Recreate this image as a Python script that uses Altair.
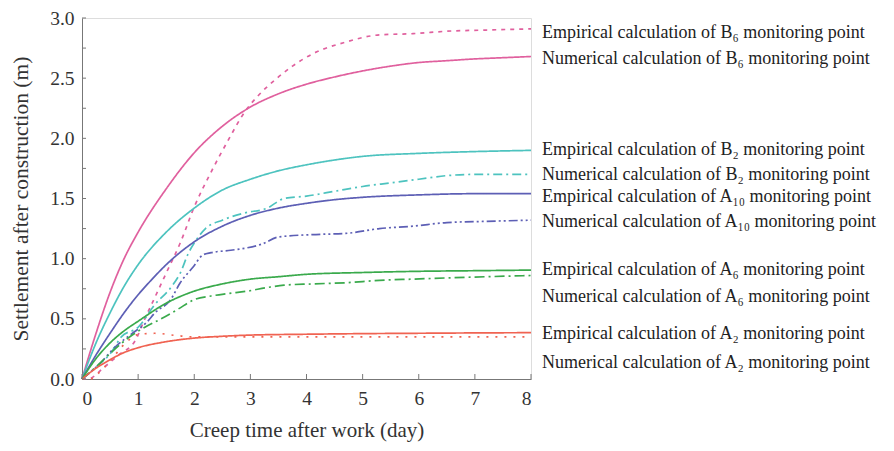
import altair as alt
import pandas as pd

# ---- data ----
b6_num_x = [0, 0.25, 0.5, 0.75, 1, 1.5, 2, 2.5, 3, 3.5, 4, 4.5, 5, 5.5, 6, 6.5, 7, 7.5, 8]
b6_num_y = [0, 0.38, 0.72, 1.0, 1.22, 1.58, 1.88, 2.1, 2.26, 2.37, 2.45, 2.51, 2.56, 2.6, 2.63, 2.645, 2.66, 2.67, 2.68]

b6_emp_x = [0, 0.1, 0.4, 0.65, 0.95, 1.12, 1.3, 1.5, 1.75, 2.0, 2.3, 2.6, 2.9, 3.15, 3.45, 3.75, 4.1, 4.7, 5.3, 5.9, 6.5, 7.2, 8]
b6_emp_y = [0, 0, 0.1, 0.2, 0.32, 0.5, 0.68, 0.88, 1.13, 1.43, 1.72, 1.98, 2.22, 2.36, 2.49, 2.6, 2.7, 2.8, 2.86, 2.87, 2.89, 2.9, 2.91]

b2_sol_x = [0, 0.25, 0.5, 0.75, 1, 1.5, 2, 2.5, 3, 3.5, 4, 4.5, 5, 6, 7, 8]
b2_sol_y = [0, 0.3, 0.55, 0.77, 0.95, 1.22, 1.42, 1.57, 1.66, 1.73, 1.78, 1.82, 1.85, 1.875, 1.89, 1.90]

b2_dd_x = [0, 0.25, 0.52, 0.7, 1.0, 1.3, 1.6, 1.75, 1.9, 2.0, 2.2, 2.5, 2.9, 3.3, 3.6, 4.0, 4.5, 5.0, 5.5, 6.0, 6.5, 7.0, 8]
b2_dd_y = [0, 0.1, 0.22, 0.35, 0.43, 0.62, 0.77, 0.88, 1.05, 1.13, 1.25, 1.32, 1.38, 1.42, 1.5, 1.52, 1.56, 1.6, 1.63, 1.66, 1.69, 1.70, 1.70]

a10_sol_x = [0, 0.25, 0.5, 0.75, 1, 1.25, 1.5, 2, 2.5, 3, 3.5, 4, 4.5, 5, 6, 7, 8]
a10_sol_y = [0, 0.2, 0.38, 0.55, 0.7, 0.83, 0.95, 1.14, 1.27, 1.36, 1.42, 1.46, 1.49, 1.51, 1.53, 1.54, 1.54]

a10_dd_x = [0, 0.3, 0.6, 0.9, 1.15, 1.3, 1.58, 1.75, 1.98, 2.15, 2.3, 2.65, 2.94, 3.2, 3.5, 4.1, 4.7, 5.3, 5.9, 6.5, 7.2, 8]
a10_dd_y = [0, 0.12, 0.27, 0.38, 0.47, 0.55, 0.66, 0.8, 0.93, 1.03, 1.05, 1.07, 1.09, 1.12, 1.18, 1.2, 1.21, 1.25, 1.27, 1.3, 1.31, 1.32]

a6_sol_x = [0, 0.25, 0.5, 0.75, 1, 1.5, 2, 2.5, 3, 3.5, 4, 5, 6, 7, 8]
a6_sol_y = [0, 0.17, 0.3, 0.4, 0.48, 0.63, 0.73, 0.79, 0.83, 0.85, 0.87, 0.885, 0.895, 0.9, 0.905]

a6_dd_x = [0, 0.25, 0.52, 0.82, 1.12, 1.41, 1.71, 2.0, 2.3, 2.6, 2.94, 3.3, 3.6, 4.1, 4.7, 5.3, 5.9, 6.5, 7.2, 8]
a6_dd_y = [0, 0.1, 0.22, 0.34, 0.43, 0.5, 0.58, 0.66, 0.69, 0.71, 0.73, 0.76, 0.78, 0.79, 0.8, 0.82, 0.83, 0.84, 0.85, 0.86]

a2_sol_x = [0, 0.25, 0.5, 0.75, 1, 1.5, 2, 2.5, 3, 4, 5, 6, 7, 8]
a2_sol_y = [0, 0.09, 0.16, 0.22, 0.26, 0.31, 0.34, 0.355, 0.365, 0.372, 0.377, 0.38, 0.383, 0.385]

a2_dot_x = [0, 0.15, 0.3, 0.5, 0.8, 1.0, 1.3, 1.7, 2.0, 3.0, 4, 5, 6, 7, 8]
a2_dot_y = [0, 0, 0.05, 0.15, 0.31, 0.37, 0.38, 0.36, 0.35, 0.35, 0.35, 0.35, 0.35, 0.35, 0.35]

series_names = ["B6 solid", "B6 dotted", "B2 solid", "B2 dashdot", "A10 solid",
                "A10 dashdot", "A6 solid", "A6 dashdot", "A2 solid", "A2 dotted"]
series_x = [b6_num_x, b6_emp_x, b2_sol_x, b2_dd_x, a10_sol_x, a10_dd_x, a6_sol_x, a6_dd_x, a2_sol_x, a2_dot_x]
series_y = [b6_num_y, b6_emp_y, b2_sol_y, b2_dd_y, a10_sol_y, a10_dd_y, a6_sol_y, a6_dd_y, a2_sol_y, a2_dot_y]
series_colors = ["#e0609e", "#e0609e", "#4dc3bf", "#4dc3bf", "#5d5fb5",
                 "#5d5fb5", "#3aaa4c", "#3aaa4c", "#f06352", "#f06352"]
series_dash = [[1, 0], [4, 5], [1, 0], [9, 4, 2, 4], [1, 0],
               [9, 3, 2, 3, 2, 3], [1, 0], [10, 4, 2, 4], [1, 0], [2, 7]]

label_texts = [
    "Empirical calculation of B₆ monitoring point",
    "Numerical calculation of B₆ monitoring point",
    "Empirical calculation of B₂ monitoring point",
    "Numerical calculation of B₂ monitoring point",
    "Empirical calculation of A₁₀ monitoring point",
    "Numerical calculation of A₁₀ monitoring point",
    "Empirical calculation of A₆ monitoring point",
    "Numerical calculation of A₆ monitoring point",
    "Empirical calculation of A₂ monitoring point",
    "Numerical calculation of A₂ monitoring point",
]
label_y = [2.876, 2.66, 1.904, 1.696, 1.513, 1.305, 0.906, 0.682, 0.374, 0.133]

y_ticks_minor = [i * 0.25 for i in range(13)]
x_ticks = [0, 1, 2, 3, 4, 5, 6, 7, 8]

rows = []
for name, xs, ys in zip(series_names, series_x, series_y):
    for xv, yv in zip(xs, ys):
        rows.append({"series": name, "t": xv, "s": yv})
df = pd.DataFrame(rows)
labels_df = pd.DataFrame({"label": label_texts, "s": label_y, "t": [8] * len(label_texts)})
yt_df = pd.DataFrame({"s": y_ticks_minor})
xt_df = pd.DataFrame({"t": x_ticks})

FONT = "Liberation Serif"
xscale = alt.Scale(domain=[0, 8], nice=False)
yscale = alt.Scale(domain=[0, 3], nice=False)

lines = alt.Chart(df).mark_line(strokeWidth=1.7, interpolate="monotone").encode(
    x=alt.X("t:Q", scale=xscale,
            axis=alt.Axis(values=x_ticks, format="d", title="Creep time after work (day)",
                          ticks=False, grid=False, domainColor="#777", labelFont=FONT,
                          labelFontSize=19.5, labelColor="#333", labelPadding=10,
                          titleFont=FONT, titleFontSize=21, titleFontWeight="normal",
                          titleColor="#333", titlePadding=12)),
    y=alt.Y("s:Q", scale=yscale,
            axis=alt.Axis(values=[0, 0.5, 1.0, 1.5, 2.0, 2.5, 3.0], format=".1f",
                          title="Settlement after construction (m)",
                          ticks=False, grid=False, domainColor="#777", labelFont=FONT,
                          labelFontSize=19.5, labelColor="#333", labelPadding=8,
                          titleFont=FONT, titleFontSize=21.5, titleFontWeight="normal",
                          titleColor="#333", titlePadding=17)),
    color=alt.Color("series:N", scale=alt.Scale(domain=series_names, range=series_colors), legend=None),
    strokeDash=alt.StrokeDash("series:N", scale=alt.Scale(domain=series_names, range=series_dash), legend=None),
    detail="series:N",
)

ytick = alt.Chart(yt_df).mark_rule(color="#777", strokeWidth=1).encode(
    y=alt.Y("s:Q", scale=yscale), x=alt.value(0), x2=alt.value(4))
xtick = alt.Chart(xt_df).mark_rule(color="#777", strokeWidth=1).encode(
    x=alt.X("t:Q", scale=xscale), y=alt.value(361), y2=alt.value(356))

texts = alt.Chart(labels_df).mark_text(align="left", baseline="middle", dx=11,
                                       font=FONT, fontSize=18, color="#222").encode(
    x=alt.X("t:Q", scale=xscale), y=alt.Y("s:Q", scale=yscale), text="label:N")

chart = alt.layer(lines, ytick, xtick, texts).properties(
    width=449, height=361,
    autosize=alt.AutoSizeParams(type="none"),
    padding={"left": 74, "top": 10, "right": 355, "bottom": 64},
).configure_view(stroke=None).configure(background="white")

chart.save("out.html", embed_options={"renderer": "svg", "actions": False})
